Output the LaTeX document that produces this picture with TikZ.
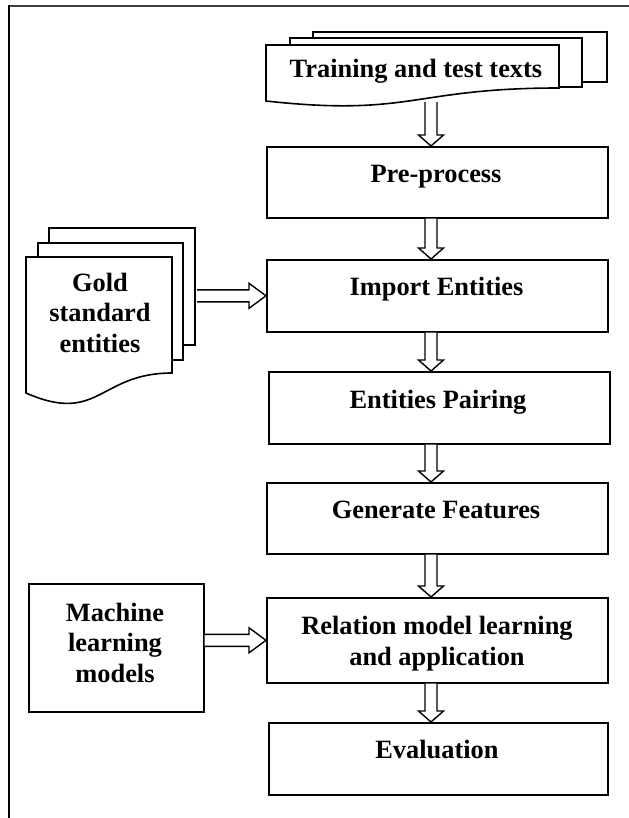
\documentclass[tikz,border=0pt]{standalone}
\usepackage{fontspec}
\setmainfont{Liberation Serif}
\usetikzlibrary{calc}
\tikzset{
 box/.style={draw, line width=1.6bp, fill=white, inner sep=0pt, anchor=north west},
 lbl/.style={font=\fontsize{26.4bp}{30.5bp}\selectfont\bfseries, inner sep=0pt, anchor=base, align=center},
 blk/.style={draw, line width=1.4bp, line join=miter, fill=white},
 docp/.style={draw, line width=1.6bp, fill=white, line join=miter},
 frameln/.style={line width=1.3bp, black!75},
}
\newcommand{\vblock}[2]{\draw[blk] let \p1=(#1), \p2=(#2) in (\x2-6bp,\y1) -- (\x2-6bp,\y2+11bp) -- (\x2-12.5bp,\y2+11bp) -- (\x2,\y2) -- (\x2+12.5bp,\y2+11bp) -- (\x2+6bp,\y2+11bp) -- (\x2+6bp,\y1);}
\newcommand{\hblock}[2]{\draw[blk] let \p1=(#1), \p2=(#2) in (\x1,\y2+6bp) -- (\x2-17bp,\y2+6bp) -- (\x2-17bp,\y2+12.5bp) -- (\x2,\y2) -- (\x2-17bp,\y2-12.5bp) -- (\x2-17bp,\y2-6bp) -- (\x1,\y2-6bp);}
\begin{document}
\begin{tikzpicture}[x=1bp, y=-1bp]
\useasboundingbox (0,0) rectangle (629,818);
% frame
\draw[frameln] (8,6) -- (629,6);
\draw[line width=2bp] (8.5,5.5) -- (8.5,818);
% training documents
\draw[docp] (313,32) rectangle (607,82);
\draw[docp] (290,38) rectangle (582,87);
\draw[docp] (266,45) -- (559,45) -- (559,88) .. controls (412,88) and (412,117) .. (266,101) -- cycle;
\node[lbl] (train) at (416,78) {Training and test texts};
\coordinate (trainout) at (431,102);
% gold documents
\draw[docp] (49,228) rectangle (195,345);
\draw[docp] (38,243) rectangle (183,360);
\draw[docp] (26,257) -- (172,257) -- (172,373) .. controls (99,373) and (99,425) .. (26,393) -- cycle;
\node[lbl] (gold) at (100,352) {Gold\\standard\\entities};
\coordinate (goldout) at (197,295);
% main boxes
\node[box, minimum width=341bp, minimum height=71bp] (pre) at (266,146) {};
\node[box, minimum width=341bp, minimum height=72bp] (imp) at (266,259) {};
\node[box, minimum width=341bp, minimum height=72bp] (pair) at (268,371) {};
\node[box, minimum width=341bp, minimum height=71bp] (gen) at (266,482) {};
\node[box, minimum width=341bp, minimum height=85bp] (rel) at (266,597) {};
\node[box, minimum width=339bp, minimum height=72bp] (eval) at (268,722) {};
\node[box, minimum width=175bp, minimum height=128bp] (ml) at (28,583) {};
\node[lbl] (tpre) at (436,182) {Pre-process};
\node[lbl] (timp) at (436.5,295) {Import Entities};
\node[lbl] (tpair) at (438,408) {Entities Pairing};
\node[lbl] (tgen) at (436,518) {Generate Features};
\node[lbl] (trel) at (437,665) {Relation model learning\\and application};
\node[lbl] (teval) at (437,758) {Evaluation};
\node[lbl] (tml) at (115,682) {Machine\\learning\\models};
% arrows
\coordinate (ax) at (431,0);
\vblock{trainout}{pre.north -| ax}
\vblock{pre.south -| ax}{imp.north -| ax}
\vblock{imp.south -| ax}{pair.north -| ax}
\vblock{pair.south -| ax}{gen.north -| ax}
\vblock{gen.south -| ax}{rel.north -| ax}
\vblock{rel.south -| ax}{eval.north -| ax}
\hblock{goldout}{imp.west}
\hblock{ml.east |- rel.west}{rel.west}
\end{tikzpicture}
\end{document}
